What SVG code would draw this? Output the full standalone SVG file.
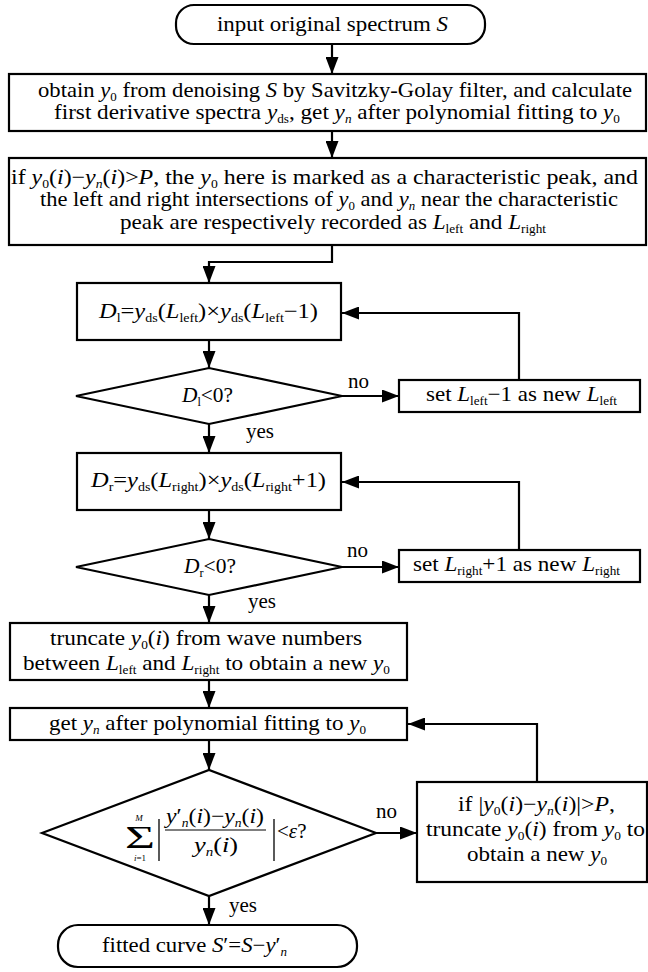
<svg xmlns="http://www.w3.org/2000/svg" width="648" height="972" viewBox="0 0 648 972">
<defs>
<marker id="ah" markerUnits="userSpaceOnUse" markerWidth="17" markerHeight="13" refX="17" refY="6.5" orient="auto">
<path d="M0,0 L17,6.5 L0,13 z" fill="#000"/>
</marker>
</defs>
<rect width="648" height="972" fill="#fff"/>

<g id="connectors" fill="none" stroke="#000" stroke-width="2.2">
<line x1="332" y1="44" x2="332" y2="74" marker-end="url(#ah)"/>
<line x1="332" y1="131" x2="332" y2="158" marker-end="url(#ah)"/>
<path d="M332,245 V262 H209 V283" marker-end="url(#ah)"/>
<line x1="209" y1="340" x2="209" y2="368" marker-end="url(#ah)"/>
<line x1="209" y1="424" x2="209" y2="453" marker-end="url(#ah)"/>
<line x1="342" y1="396" x2="399" y2="396" marker-end="url(#ah)"/>
<path d="M519,380 V313 H342" marker-end="url(#ah)"/>
<line x1="209" y1="510" x2="209" y2="539" marker-end="url(#ah)"/>
<line x1="209" y1="595" x2="209" y2="623" marker-end="url(#ah)"/>
<line x1="342" y1="567" x2="399" y2="567" marker-end="url(#ah)"/>
<path d="M519,550 V482 H342" marker-end="url(#ah)"/>
<line x1="209" y1="680" x2="209" y2="708" marker-end="url(#ah)"/>
<line x1="209" y1="740" x2="209" y2="770" marker-end="url(#ah)"/>
<line x1="209" y1="896" x2="209" y2="925" marker-end="url(#ah)"/>
<line x1="376" y1="833" x2="417" y2="833" marker-end="url(#ah)"/>
<path d="M537,782 V724 H408" marker-end="url(#ah)"/>
</g>

<g id="labels" font-family="Liberation Serif" font-size="21" fill="#000">
<text x="348" y="388">no</text>
<text x="246" y="438">yes</text>
<text x="347" y="557">no</text>
<text x="248" y="608">yes</text>
<text x="376" y="818">no</text>
<text x="229" y="912">yes</text>
</g>

<g id="boxes" fill="#fff" stroke="#000" stroke-width="2.2">
<rect id="start-shape" x="176" y="5" width="309" height="39" rx="18"/>
<rect id="denoise-shape" x="9" y="74" width="637" height="57"/>
<rect id="peak-shape" x="9" y="158" width="637" height="87"/>
<rect id="dl-shape" x="77" y="283" width="264" height="57"/>
<polygon id="dl-check-shape" points="76,396 209,368 342,396 209,424"/>
<rect id="set-left-shape" x="399" y="380" width="241" height="32"/>
<rect id="dr-shape" x="77" y="453" width="264" height="57"/>
<polygon id="dr-check-shape" points="76,567 209,539 342,567 209,595"/>
<rect id="set-right-shape" x="399" y="550" width="241" height="32"/>
<rect id="truncate-shape" x="10" y="623" width="397" height="57"/>
<rect id="fit-shape" x="10" y="708" width="397" height="32"/>
<polygon id="converge-shape" points="42,833 209,770 376,833 209,896"/>
<rect id="outlier-shape" x="417" y="782" width="230" height="100"/>
<rect id="end-shape" x="58" y="925" width="299" height="42" rx="20"/>
</g>

<g font-family="Liberation Serif" font-size="21" fill="#000">
<g id="start">
<text x="217" y="31" textLength="231" lengthAdjust="spacingAndGlyphs">input original spectrum <tspan font-style="italic">S</tspan></text>
</g>

<g id="denoise">
<text x="38" y="97" textLength="594" lengthAdjust="spacingAndGlyphs">obtain <tspan font-style="italic">y</tspan><tspan font-size="12" dy="4">0</tspan><tspan dy="-4"> from denoising </tspan><tspan font-style="italic">S</tspan> by Savitzky-Golay filter, and calculate</text>
<text x="54" y="119" textLength="566" lengthAdjust="spacingAndGlyphs">first derivative spectra <tspan font-style="italic">y</tspan><tspan font-size="12" dy="4">ds</tspan><tspan dy="-4">, get </tspan><tspan font-style="italic">y</tspan><tspan font-size="12" font-style="italic" dy="4">n</tspan><tspan dy="-4"> after polynomial fitting to </tspan><tspan font-style="italic">y</tspan><tspan font-size="12" dy="4">0</tspan></text>
</g>

<g id="peak">
<text x="11" y="184" textLength="627" lengthAdjust="spacingAndGlyphs">if <tspan font-style="italic">y</tspan><tspan font-size="12" dy="4">0</tspan><tspan dy="-4">(</tspan><tspan font-style="italic">i</tspan>)−<tspan font-style="italic">y</tspan><tspan font-size="12" font-style="italic" dy="4">n</tspan><tspan dy="-4">(</tspan><tspan font-style="italic">i</tspan>)&gt;<tspan font-style="italic">P</tspan>, the <tspan font-style="italic">y</tspan><tspan font-size="12" dy="4">0</tspan><tspan dy="-4"> here is marked as a characteristic peak, and</tspan></text>
<text x="40" y="206" textLength="578" lengthAdjust="spacingAndGlyphs">the left and right intersections of <tspan font-style="italic">y</tspan><tspan font-size="12" dy="4">0</tspan><tspan dy="-4"> and </tspan><tspan font-style="italic">y</tspan><tspan font-size="12" font-style="italic" dy="4">n</tspan><tspan dy="-4"> near the characteristic</tspan></text>
<text x="120" y="229" textLength="426" lengthAdjust="spacingAndGlyphs">peak are respectively recorded as <tspan font-style="italic">L</tspan><tspan font-size="12" dy="4">left</tspan><tspan dy="-4"> and </tspan><tspan font-style="italic">L</tspan><tspan font-size="12" dy="4">right</tspan></text>
</g>

<g id="dl">
<text x="99" y="318" textLength="219" lengthAdjust="spacingAndGlyphs"><tspan font-style="italic">D</tspan><tspan font-size="12" dy="4">l</tspan><tspan dy="-4">=</tspan><tspan font-style="italic">y</tspan><tspan font-size="12" dy="4">ds</tspan><tspan dy="-4">(</tspan><tspan font-style="italic">L</tspan><tspan font-size="12" dy="4">left</tspan><tspan dy="-4">)×</tspan><tspan font-style="italic">y</tspan><tspan font-size="12" dy="4">ds</tspan><tspan dy="-4">(</tspan><tspan font-style="italic">L</tspan><tspan font-size="12" dy="4">left</tspan><tspan dy="-4">−1)</tspan></text>
</g>

<g id="dl-check">
<text x="182" y="402" textLength="51" lengthAdjust="spacingAndGlyphs"><tspan font-style="italic">D</tspan><tspan font-size="12" dy="4">l</tspan><tspan dy="-4">&lt;0?</tspan></text>
</g>

<g id="set-left">
<text x="426" y="401" textLength="191" lengthAdjust="spacingAndGlyphs">set <tspan font-style="italic">L</tspan><tspan font-size="12" dy="4">left</tspan><tspan dy="-4">−1 as new </tspan><tspan font-style="italic">L</tspan><tspan font-size="12" dy="4">left</tspan></text>
</g>

<g id="dr">
<text x="91" y="487" textLength="235" lengthAdjust="spacingAndGlyphs"><tspan font-style="italic">D</tspan><tspan font-size="12" dy="4">r</tspan><tspan dy="-4">=</tspan><tspan font-style="italic">y</tspan><tspan font-size="12" dy="4">ds</tspan><tspan dy="-4">(</tspan><tspan font-style="italic">L</tspan><tspan font-size="12" dy="4">right</tspan><tspan dy="-4">)×</tspan><tspan font-style="italic">y</tspan><tspan font-size="12" dy="4">ds</tspan><tspan dy="-4">(</tspan><tspan font-style="italic">L</tspan><tspan font-size="12" dy="4">right</tspan><tspan dy="-4">+1)</tspan></text>
</g>

<g id="dr-check">
<text x="184" y="573" textLength="52" lengthAdjust="spacingAndGlyphs"><tspan font-style="italic">D</tspan><tspan font-size="12" dy="4">r</tspan><tspan dy="-4">&lt;0?</tspan></text>
</g>

<g id="set-right">
<text x="413" y="571" textLength="207" lengthAdjust="spacingAndGlyphs">set <tspan font-style="italic">L</tspan><tspan font-size="12" dy="4">right</tspan><tspan dy="-4">+1 as new </tspan><tspan font-style="italic">L</tspan><tspan font-size="12" dy="4">right</tspan></text>
</g>

<g id="truncate">
<text x="50" y="645" textLength="312" lengthAdjust="spacingAndGlyphs">truncate <tspan font-style="italic">y</tspan><tspan font-size="12" dy="4">0</tspan><tspan dy="-4">(</tspan><tspan font-style="italic">i</tspan>) from wave numbers</text>
<text x="23" y="670" textLength="367" lengthAdjust="spacingAndGlyphs">between <tspan font-style="italic">L</tspan><tspan font-size="12" dy="4">left</tspan><tspan dy="-4"> and </tspan><tspan font-style="italic">L</tspan><tspan font-size="12" dy="4">right</tspan><tspan dy="-4"> to obtain a new </tspan><tspan font-style="italic">y</tspan><tspan font-size="12" dy="4">0</tspan></text>
</g>

<g id="fit">
<text x="49" y="730" textLength="317" lengthAdjust="spacingAndGlyphs">get <tspan font-style="italic">y</tspan><tspan font-size="12" font-style="italic" dy="4">n</tspan><tspan dy="-4"> after polynomial fitting to </tspan><tspan font-style="italic">y</tspan><tspan font-size="12" dy="4">0</tspan></text>
</g>

<g id="converge">
<text x="139" y="821" text-anchor="middle" font-size="9" font-style="italic">M</text>
<text x="125" y="848" font-size="32" textLength="30" lengthAdjust="spacingAndGlyphs">Σ</text>
<text x="140" y="861" text-anchor="middle" font-size="9"><tspan font-style="italic">i</tspan>=1</text>
<line x1="159" y1="819" x2="159" y2="861" stroke="#000" stroke-width="1.3"/>
<line x1="274" y1="819" x2="274" y2="861" stroke="#000" stroke-width="1.3"/>
<text x="166" y="823" textLength="98" lengthAdjust="spacingAndGlyphs"><tspan font-style="italic">y</tspan>′<tspan font-size="12" font-style="italic" dy="4">n</tspan><tspan dy="-4">(</tspan><tspan font-style="italic">i</tspan>)−<tspan font-style="italic">y</tspan><tspan font-size="12" font-style="italic" dy="4">n</tspan><tspan dy="-4">(</tspan><tspan font-style="italic">i</tspan>)</text>
<line x1="165" y1="830" x2="266" y2="830" stroke="#000" stroke-width="1.2"/>
<text x="194" y="852" textLength="44" lengthAdjust="spacingAndGlyphs"><tspan font-style="italic">y</tspan><tspan font-size="12" font-style="italic" dy="4">n</tspan><tspan dy="-4">(</tspan><tspan font-style="italic">i</tspan>)</text>
<text x="277" y="838">&lt;<tspan font-style="italic">ε</tspan>?</text>
</g>

<g id="truncate-outlier">
<text x="458" y="811" textLength="157" lengthAdjust="spacingAndGlyphs">if |<tspan font-style="italic">y</tspan><tspan font-size="12" dy="4">0</tspan><tspan dy="-4">(</tspan><tspan font-style="italic">i</tspan>)−<tspan font-style="italic">y</tspan><tspan font-size="12" font-style="italic" dy="4">n</tspan><tspan dy="-4">(</tspan><tspan font-style="italic">i</tspan>)|&gt;<tspan font-style="italic">P</tspan>,</text>
<text x="426" y="836" textLength="219" lengthAdjust="spacingAndGlyphs">truncate <tspan font-style="italic">y</tspan><tspan font-size="12" dy="4">0</tspan><tspan dy="-4">(</tspan><tspan font-style="italic">i</tspan>) from <tspan font-style="italic">y</tspan><tspan font-size="12" dy="4">0</tspan><tspan dy="-4"> to</tspan></text>
<text x="467" y="861" textLength="140" lengthAdjust="spacingAndGlyphs">obtain a new <tspan font-style="italic">y</tspan><tspan font-size="12" dy="4">0</tspan></text>
</g>

<g id="end">
<text x="102" y="952" textLength="185" lengthAdjust="spacingAndGlyphs">fitted curve <tspan font-style="italic">S</tspan>′=<tspan font-style="italic">S</tspan>−<tspan font-style="italic">y</tspan>′<tspan font-size="12" font-style="italic" dy="4">n</tspan></text>
</g>
</g>
</svg>
